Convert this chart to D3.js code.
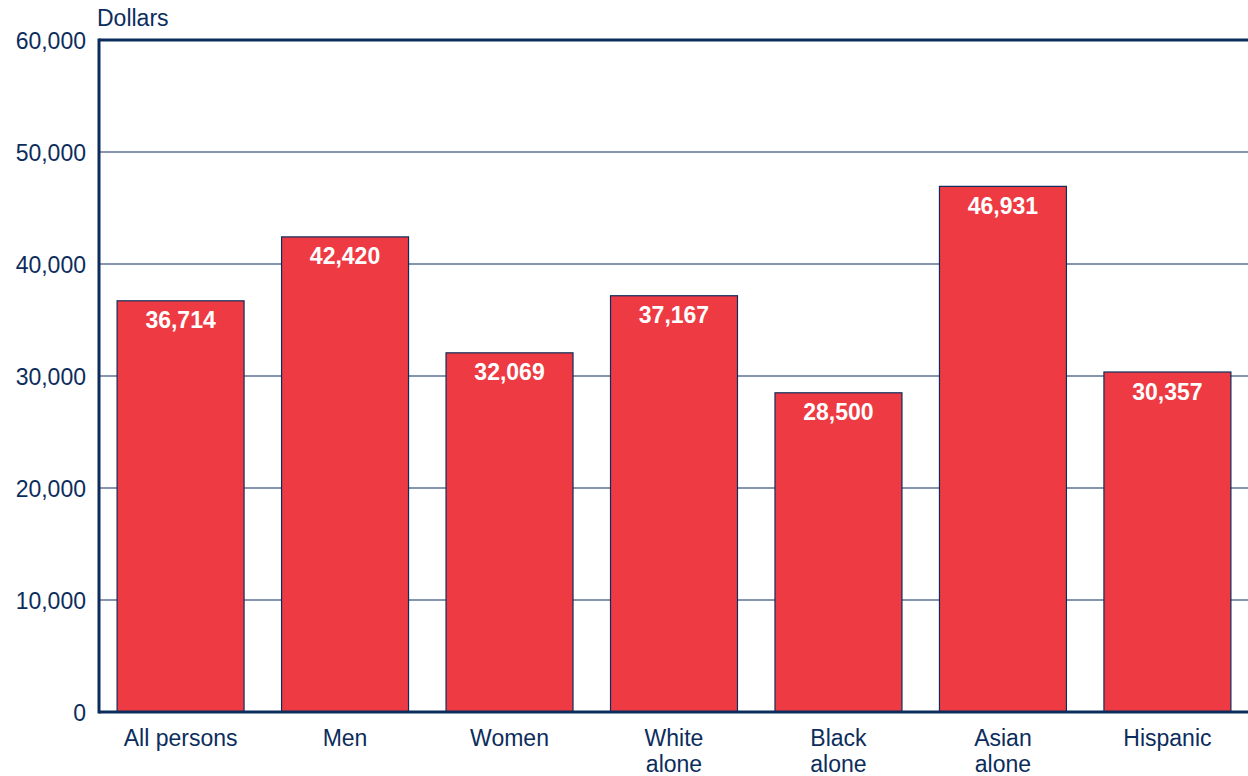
<!DOCTYPE html>
<html><head><meta charset="utf-8">
<script src="https://cdn.jsdelivr.net/npm/d3@7/dist/d3.min.js"></script>
<style>body{margin:0;background:#fff}svg{display:block}</style>
</head><body>
<svg id="c" width="1248" height="776"></svg>
<script>
const categories = [["All persons"],["Men"],["Women"],["White","alone"],["Black","alone"],["Asian","alone"],["Hispanic"]];
const values = [36714, 42420, 32069, 37167, 28500, 46931, 30357];
const yTicks = [0, 10000, 20000, 30000, 40000, 50000, 60000];
const yTitle = "Dollars";

const navy = "#0c2d5c", red = "#ee3b43";
const font = "'Liberation Sans', Arial, Helvetica, sans-serif";
const svg = d3.select("#c");
const L = 99, R = 1249, T = 40, B = 712;
const keys = categories.map((c,i)=>i);
const x = d3.scaleBand().domain(keys).range([L, R]).paddingInner(0.228).paddingOuter(0.11);
const y = d3.scaleLinear().domain([0, 60000]).range([B, T]);
const fmt = d3.format(",");

// gridlines
svg.append("g").selectAll("line").data(yTicks.filter(t=>t>0 && t<60000)).join("line")
  .attr("x1", L).attr("x2", 1248).attr("y1", d=>y(d)).attr("y2", d=>y(d))
  .attr("stroke", navy).attr("stroke-width", 1.2);

// bars
svg.append("g").selectAll("rect").data(values).join("rect")
  .attr("x", (d,i)=>x(i)).attr("width", x.bandwidth())
  .attr("y", d=>y(d)).attr("height", d=>B - y(d))
  .attr("fill", red).attr("stroke", navy).attr("stroke-width", 1.2);

// value labels
svg.append("g").selectAll("text").data(values).join("text")
  .attr("x", (d,i)=>x(i)+x.bandwidth()/2).attr("y", d=>y(d)+27.5)
  .attr("text-anchor","middle").attr("fill","#fff")
  .attr("font-family", font).attr("font-weight","bold").attr("font-size", 23)
  .text(d=>fmt(d));

// frame lines: top, left, bottom
svg.append("line").attr("x1", L).attr("x2", 1248).attr("y1", y(60000)).attr("y2", y(60000))
  .attr("stroke", navy).attr("stroke-width", 3);
svg.append("line").attr("x1", L).attr("x2", L).attr("y1", T-1.5).attr("y2", B+1.5)
  .attr("stroke", navy).attr("stroke-width", 3);
svg.append("line").attr("x1", L).attr("x2", 1248).attr("y1", B).attr("y2", B)
  .attr("stroke", navy).attr("stroke-width", 3);

// y tick labels
svg.append("g").selectAll("text").data(yTicks).join("text")
  .attr("x", 86).attr("y", d=>y(d)).attr("dy","0.4em")
  .attr("text-anchor","end").attr("fill", navy)
  .attr("font-family", font).attr("font-size", 23)
  .text(d=>fmt(d));

svg.append("text").attr("x", 97).attr("y", 26).attr("fill", navy)
  .attr("font-family", font).attr("font-size", 23).text(yTitle);

// category labels
const cg = svg.append("g").selectAll("text").data(categories).join("text")
  .attr("x", (d,i)=>x(i)+x.bandwidth()/2).attr("y", 745.5)
  .attr("text-anchor","middle").attr("fill", navy)
  .attr("font-family", font).attr("font-size", 23);
cg.selectAll("tspan").data(d=>d).join("tspan")
  .attr("x", function(){return d3.select(this.parentNode).attr("x");})
  .attr("dy", (d,i)=>i===0?0:26.5).text(d=>d);
</script>
</body></html>
